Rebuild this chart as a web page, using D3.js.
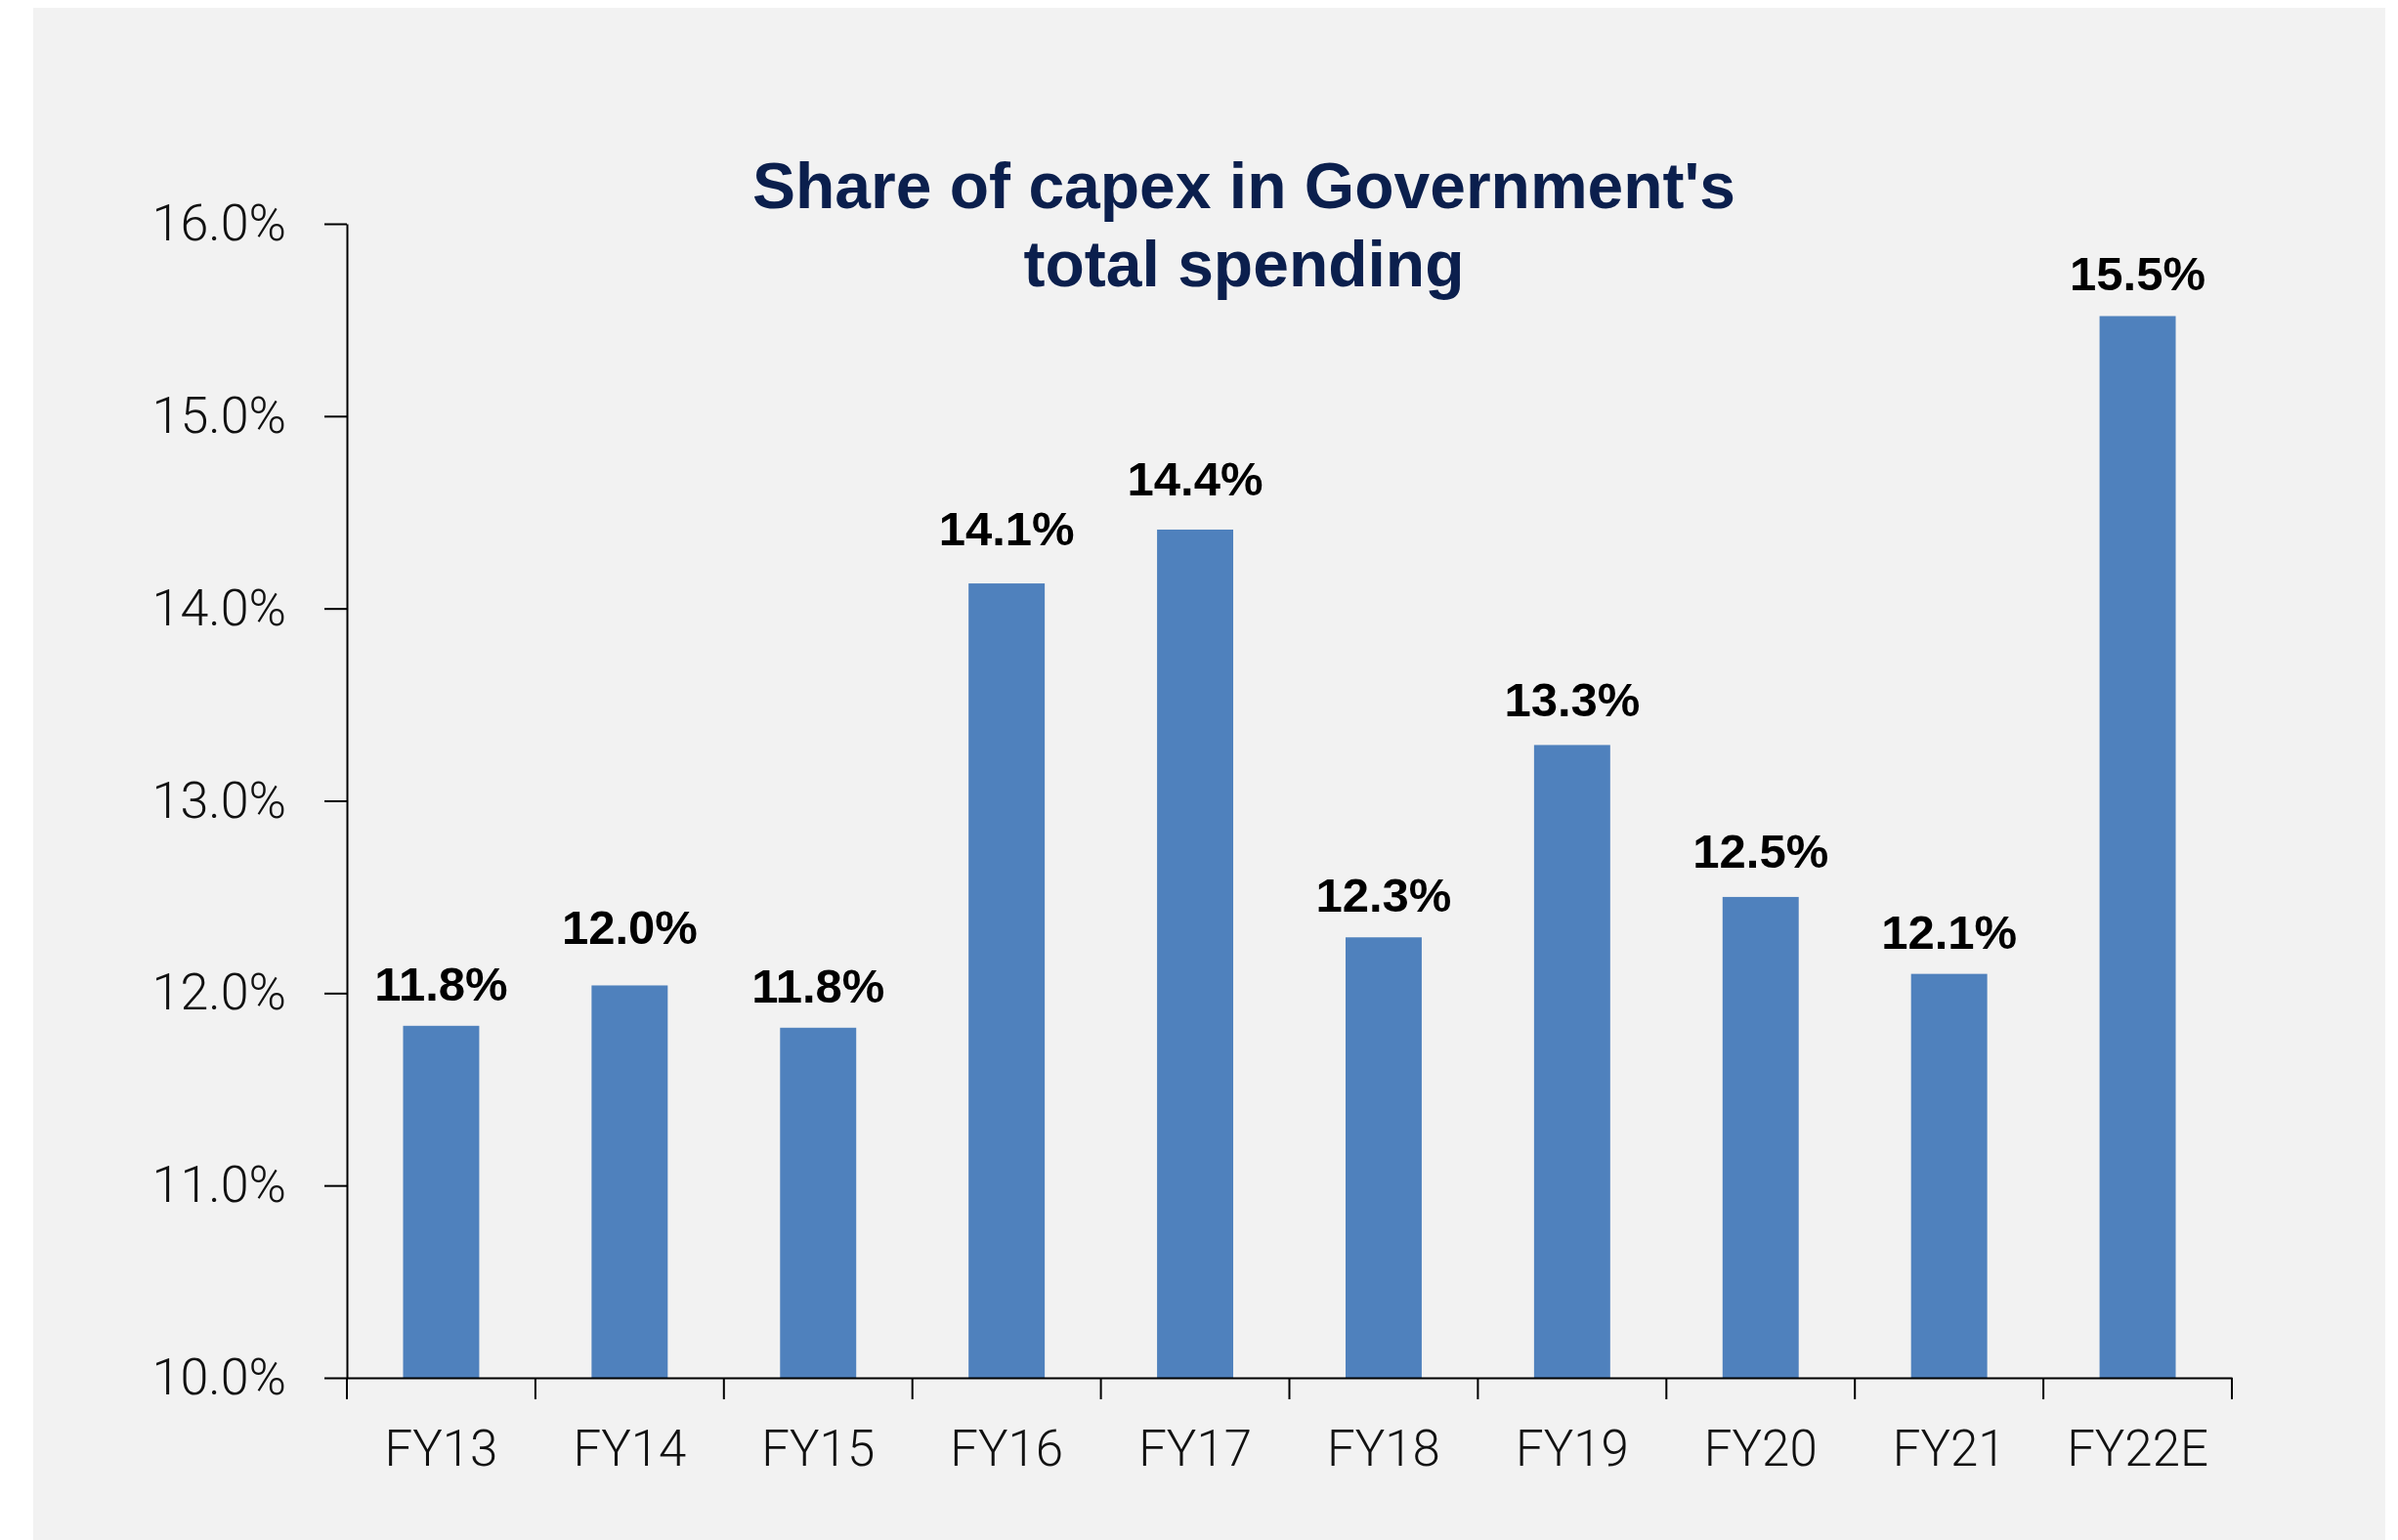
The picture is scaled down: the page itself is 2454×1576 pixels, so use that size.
<!DOCTYPE html>
<html>
<head>
<meta charset="utf-8">
<script src="https://cdn.jsdelivr.net/npm/d3@7"></script>
<style>
  html, body { margin: 0; padding: 0; background: #ffffff; }
  svg { display: block; }
</style>
</head>
<body>
<svg id="chart" width="2454" height="1576"></svg>
<script>
// Share of capital expenditure in total government spending, by fiscal year
const categories = ["FY13", "FY14", "FY15", "FY16", "FY17", "FY18", "FY19", "FY20", "FY21", "FY22E"];
const capexShare = [11.83, 12.04, 11.82, 14.13, 14.41, 12.29, 13.29, 12.50, 12.10, 15.52];
const yTicks = [10, 11, 12, 13, 14, 15, 16];
const titleLines = ["Share of capex in Government's", "total spending"];

// a few value labels sit a little higher above their bars
const labelLift = { FY14: 16, FY16: 13, FY17: 9, FY19: 3, FY20: 4 };

const svg = d3.select("#chart");

// panel background
svg.append("rect")
  .attr("x", 34).attr("y", 8)
  .attr("width", 2407).attr("height", 1568)
  .attr("fill", "#f2f2f2");

const plot = { left: 355, right: 2284, top: 229, bottom: 1410 };

const x = d3.scaleBand()
  .domain(categories)
  .range([plot.left, plot.right])
  .padding(0);

const y = d3.scaleLinear()
  .domain([10, 16])
  .range([plot.bottom, plot.top]);

const barFrac = 0.404;

// bars
svg.append("g").selectAll("rect")
  .data(categories)
  .join("rect")
  .attr("x", (d) => x(d) + x.bandwidth() * (1 - barFrac) / 2)
  .attr("width", x.bandwidth() * barFrac)
  .attr("y", (d, i) => y(capexShare[i]))
  .attr("height", (d, i) => y(10) - y(capexShare[i]))
  .attr("fill", "#4f81bd");

// value labels
svg.append("g").selectAll("text")
  .data(categories)
  .join("text")
  .attr("x", (d) => x(d) + x.bandwidth() / 2)
  .attr("y", (d, i) => y(capexShare[i]) - 26 - (labelLift[d] || 0))
  .attr("text-anchor", "middle")
  .attr("font-family", "'Liberation Sans', Arial, sans-serif")
  .attr("font-weight", 700)
  .attr("font-size", 49)
  .attr("fill", "#000")
  .text((d, i) => capexShare[i].toFixed(1) + "%");

// y axis
const yAxis = svg.append("g")
  .attr("transform", `translate(${plot.left},0)`)
  .call(d3.axisLeft(y)
    .tickValues(yTicks)
    .tickSize(23)
    .tickSizeOuter(0)
    .tickPadding(39)
    .tickFormat((d) => d.toFixed(1) + "%"));

yAxis.selectAll("path, line").attr("stroke", "#000").attr("stroke-width", 2);
yAxis.selectAll("text")
  .attr("font-family", "Roboto, sans-serif")
  .attr("font-weight", 300)
  .attr("font-size", 52)
  .attr("fill", "#111");

// x axis: baseline and category labels
const xAxis = svg.append("g")
  .attr("transform", `translate(0,${plot.bottom})`)
  .call(d3.axisBottom(x).tickSize(0).tickSizeOuter(0).tickPadding(54));

xAxis.select("path").attr("stroke", "#000").attr("stroke-width", 2);
xAxis.selectAll("text")
  .attr("font-family", "Roboto, sans-serif")
  .attr("font-weight", 300)
  .attr("font-size", 51)
  .attr("fill", "#111");

// category boundary ticks
const boundaries = categories.map((c) => x(c)).concat([plot.right]);
svg.append("g").selectAll("line")
  .data(boundaries)
  .join("line")
  .attr("x1", (d) => d).attr("x2", (d) => d)
  .attr("y1", plot.bottom).attr("y2", plot.bottom + 22)
  .attr("stroke", "#000")
  .attr("stroke-width", 2);

// title
svg.append("g").selectAll("text")
  .data(titleLines)
  .join("text")
  .attr("x", 1273)
  .attr("y", (d, i) => 213 + i * 80)
  .attr("text-anchor", "middle")
  .attr("font-family", "'Liberation Sans', Arial, sans-serif")
  .attr("font-weight", 700)
  .attr("font-size", 66)
  .attr("fill", "#0b1f4d")
  .text((d) => d);
</script>
</body>
</html>
